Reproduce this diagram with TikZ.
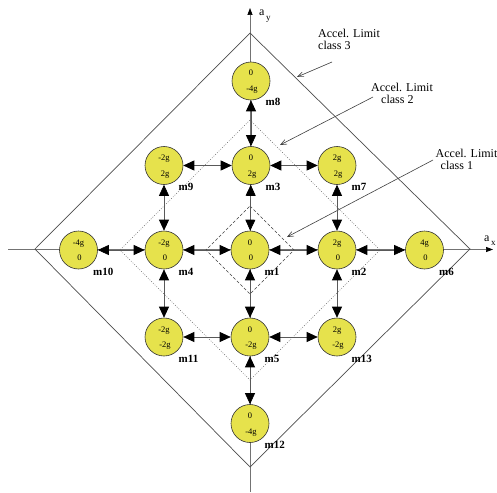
\documentclass[tikz,border=0pt]{standalone}
\usepackage{fontspec}
\setmainfont{Liberation Serif}
\usetikzlibrary{arrows.meta}
\definecolor{nodeyellow}{RGB}{230,226,76}
\begin{document}
\begin{tikzpicture}[x=1pt,y=-1pt,
  mnode/.style={circle,draw=black!80,fill=nodeyellow,minimum size=38pt,inner sep=0pt,line width=0.6pt},
  val/.style={font=\fontsize{8.5}{8.5}\selectfont,inner sep=0pt,anchor=base},
  lab/.style={font=\fontsize{11}{11}\selectfont\bfseries,inner sep=0pt,anchor=base west},
  link/.style={draw=black!65,line width=0.7pt,{Triangle[length=11pt,width=10pt,color=black]}-{Triangle[length=11pt,width=10pt,color=black]}},
  axisline/.style={draw=black!55,line width=0.7pt,-{Triangle[length=7pt,width=5pt,color=black]}},
  note/.style={font=\fontsize{12}{12}\selectfont,inner sep=0pt,anchor=north west,align=left},
  pointer/.style={draw=black!75,line width=0.6pt,-{Straight Barb[length=6pt,width=5pt]}},
  limitline/.style={draw=black!70,line width=0.7pt},
  limitdot/.style={draw=black!60,line width=0.5pt,dash pattern=on 0.8pt off 1.6pt},
  limitdash/.style={draw=black!75,line width=0.6pt,dash pattern=on 3pt off 2pt},
]
\useasboundingbox (0,0) rectangle (497,492);

% axes
\coordinate (yb) at (250,492);
\coordinate (yt) at (250,8);
\coordinate (xl) at (8,249.5);
\coordinate (xr) at (493,249.5);
\draw[axisline] (yb) -- (yt);
\draw[axisline] (xl) -- (xr);
\node[inner sep=0pt,anchor=base west,font=\fontsize{12}{12}\selectfont] (ay) at (259,16)
  {a\kern1.5pt\raisebox{-4.5pt}{\fontsize{9}{9}\selectfont y}};
\node[inner sep=0pt,anchor=base west,font=\fontsize{12}{12}\selectfont] (ax) at (484,241)
  {a\kern1.5pt\raisebox{-4.5pt}{\fontsize{9}{9}\selectfont x}};

% limit diamonds
\coordinate (o1) at (250,33);  \coordinate (o2) at (470,249);
\coordinate (o3) at (250,467); \coordinate (o4) at (35,249);
\draw[limitline] (o1) -- (o2) -- (o3) -- (o4) -- cycle;
\coordinate (d1) at (250,120);  \coordinate (d2) at (380,250);
\coordinate (d3) at (250,380);  \coordinate (d4) at (120,250);
\draw[limitdot] (d1) -- (d2) -- (d3) -- (d4) -- cycle;
\coordinate (s1) at (250,206);  \coordinate (s2) at (294,250);
\coordinate (s3) at (250,294);  \coordinate (s4) at (206,250);
\draw[limitdash] (s1) -- (s2) -- (s3) -- (s4) -- cycle;

% annotations
\node[note] (n3) at (318,28.5) {Accel. Limit\\class 3};
\node[note] (n2) at (371,82.5) {Accel. Limit\\\hspace*{10pt}class 2};
\node[note] (n1) at (435.5,148.5) {Accel. Limit\\\hspace*{5pt}class 1};
\coordinate (p3s) at (332,62);  \coordinate (p3e) at (297,77);
\coordinate (p2s) at (373,97);  \coordinate (p2e) at (280,145);
\coordinate (p1s) at (433,160); \coordinate (p1e) at (287,237);
\draw[pointer] (p3s) -- (p3e);
\draw[pointer] (p2s) -- (p2e);
\draw[pointer] (p1s) -- (p1e);

% states
\newcommand\mstate[5]{%
  \node[mnode] (#1) at (#2,#3) {};
  \node[val] (#1t) at (#2,#3-5) {#4};
  \node[val] (#1b) at (#2+1,#3+10.5) {#5};
  \node[lab] (#1l) at (#2+14.5,#3+25) {#1};
}
\mstate{m1}{250}{250}{0}{0}
\mstate{m2}{337}{250}{2g}{0}
\mstate{m3}{251}{165.5}{0}{2g}
\mstate{m4}{164}{250}{-2g}{0}
\mstate{m5}{250}{337}{0}{-2g}
\mstate{m6}{424.5}{250}{4g}{0}
\mstate{m7}{337}{165.5}{2g}{2g}
\mstate{m8}{251}{81}{0}{-4g}
\mstate{m9}{164}{165.5}{-2g}{2g}
\mstate{m10}{78.5}{250}{-4g}{0}
\mstate{m11}{164}{337}{-2g}{-2g}
\mstate{m12}{250}{423.5}{0}{-4g}
\mstate{m13}{337}{337}{2g}{-2g}

% transitions
\draw[link] (m10) -- (m4);
\draw[link] (m4) -- (m1);
\draw[link] (m1) -- (m2);
\draw[link] (m2) -- (m6);
\draw[link] (m8) -- (m3);
\draw[link] (m3) -- (m1);
\draw[link] (m1) -- (m5);
\draw[link] (m5) -- (m12);
\draw[link] (m9) -- (m3);
\draw[link] (m3) -- (m7);
\draw[link] (m9) -- (m4);
\draw[link] (m7) -- (m2);
\draw[link] (m4) -- (m11);
\draw[link] (m2) -- (m13);
\draw[link] (m11) -- (m5);
\draw[link] (m5) -- (m13);
\end{tikzpicture}
\end{document}
